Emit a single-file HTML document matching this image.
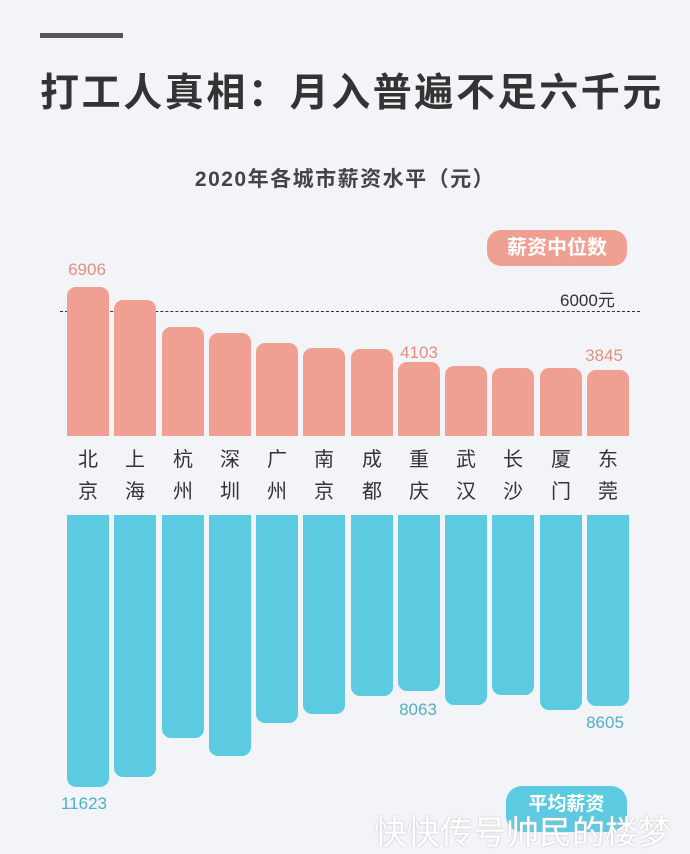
<!DOCTYPE html>
<html><head><meta charset="utf-8"><style>
body{margin:0;width:690px;height:850px;background:#f3f4f8;overflow:hidden;position:relative;font-family:"Liberation Sans","Noto Sans CJK SC",sans-serif}
.a{position:absolute}
.p{position:absolute;background:#f0a092;border-radius:9px 9px 0 0;width:42px}
.b{position:absolute;background:#5ccbe2;border-radius:0 0 9px 9px;width:42px;top:515px}
.c{position:absolute;width:42px;text-align:center;font-size:20px;color:#333;line-height:32px;top:444px}
.n{position:absolute;font-size:17px;transform:translateX(-50%)}
</style></head><body>
<div class="a" style="left:40px;top:33px;width:83px;height:5px;background:#555"></div>
<div class="a" style="left:40px;top:62px;font-size:39px;font-weight:bold;color:#333;letter-spacing:2.6px;white-space:nowrap">打工人真相：月入普遍不足六千元</div>
<div class="a" style="left:0;width:690px;text-align:center;top:163px;font-size:21px;font-weight:bold;color:#444;letter-spacing:1.5px">2020年各城市薪资水平（元）</div>
<div class="a" style="left:487px;top:230px;width:140px;height:36px;border-radius:14px;background:#f0a092;color:#fff;font-size:20px;font-weight:bold;text-align:center;line-height:36px">薪资中位数</div>
<div class="a" style="left:60px;top:311px;width:580px;border-top:1.5px dashed #333"></div>
<div class="a" style="left:560px;top:286px;font-size:17px;color:#333">6000元</div>
<div class="p" style="left:67px;top:287px;height:149px"></div>
<div class="p" style="left:114px;top:300px;height:136px"></div>
<div class="p" style="left:162px;top:327px;height:109px"></div>
<div class="p" style="left:209px;top:333px;height:103px"></div>
<div class="p" style="left:256px;top:343px;height:93px"></div>
<div class="p" style="left:303px;top:348px;height:88px"></div>
<div class="p" style="left:351px;top:349px;height:87px"></div>
<div class="p" style="left:398px;top:362px;height:74px"></div>
<div class="p" style="left:445px;top:366px;height:70px"></div>
<div class="p" style="left:492px;top:368px;height:68px"></div>
<div class="p" style="left:540px;top:368px;height:68px"></div>
<div class="p" style="left:587px;top:370px;height:66px"></div>
<div class="n" style="left:87px;top:260px;color:#e0907f">6906</div>
<div class="n" style="left:419px;top:343px;color:#e0907f">4103</div>
<div class="n" style="left:604px;top:346px;color:#e0907f">3845</div>
<div class="c" style="left:67px">北<br>京</div>
<div class="c" style="left:114px">上<br>海</div>
<div class="c" style="left:162px">杭<br>州</div>
<div class="c" style="left:209px">深<br>圳</div>
<div class="c" style="left:256px">广<br>州</div>
<div class="c" style="left:303px">南<br>京</div>
<div class="c" style="left:351px">成<br>都</div>
<div class="c" style="left:398px">重<br>庆</div>
<div class="c" style="left:445px">武<br>汉</div>
<div class="c" style="left:492px">长<br>沙</div>
<div class="c" style="left:540px">厦<br>门</div>
<div class="c" style="left:587px">东<br>莞</div>
<div class="b" style="left:67px;height:272px"></div>
<div class="b" style="left:114px;height:262px"></div>
<div class="b" style="left:162px;height:223px"></div>
<div class="b" style="left:209px;height:241px"></div>
<div class="b" style="left:256px;height:208px"></div>
<div class="b" style="left:303px;height:199px"></div>
<div class="b" style="left:351px;height:181px"></div>
<div class="b" style="left:398px;height:176px"></div>
<div class="b" style="left:445px;height:190px"></div>
<div class="b" style="left:492px;height:180px"></div>
<div class="b" style="left:540px;height:195px"></div>
<div class="b" style="left:587px;height:191px"></div>
<div class="n" style="left:418px;top:700px;color:#4fb0c2">8063</div>
<div class="n" style="left:605px;top:713px;color:#4fb0c2">8605</div>
<div class="n" style="left:84px;top:794px;color:#4fb0c2">11623</div>
<div class="a" style="left:506px;top:786px;width:121px;height:46px;border-radius:16px;background:#5ccbe2;color:#fff;font-size:19px;font-weight:bold;text-align:center;line-height:38px">平均薪资</div>
<div class="a" style="left:374px;top:806px;font-size:33px;color:#fff;text-shadow:0 0 2px #bbb;white-space:nowrap">快快传号帅民的楼梦</div>
</body></html>
